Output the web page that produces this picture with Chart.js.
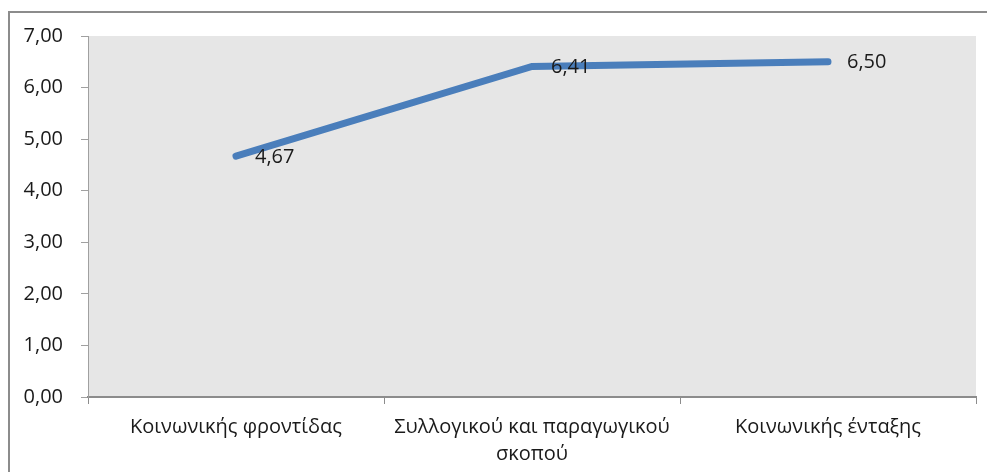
<!DOCTYPE html>
<html>
<head>
<meta charset="utf-8">
<script src="https://cdn.jsdelivr.net/npm/chart.js@4"></script>
<style>
  html, body { margin: 0; padding: 0; background: #fff; }
  #wrap { position: relative; width: 987px; height: 472px; overflow: hidden; }
  #frame {
    position: absolute; left: 8px; top: 11px; width: 1000px; height: 500px;
    border-left: 2px solid #8c8c8c; border-top: 2px solid #8c8c8c;
  }
  canvas { position: absolute; left: 0; top: 0; }
</style>
</head>
<body>
<div id="wrap">
  <div id="frame"></div>
  <canvas id="chart" width="987" height="472"></canvas>
</div>
<script>
// Κατηγορίες και τιμές
const categories = [
  "Κοινωνικής φροντίδας",
  ["Συλλογικού και παραγωγικού", "σκοπού"],
  "Κοινωνικής ένταξης",
];
const values = [4.67, 6.41, 6.5];
const yTicks = [0, 1, 2, 3, 4, 5, 6, 7];

const fontFamily = "'Open Sans', 'Noto Sans', sans-serif";

// Γκρι φόντο στην περιοχή σχεδίασης
const plotBackground = {
  id: "plotBackground",
  beforeDraw(chart) {
    const { ctx, chartArea: a } = chart;
    ctx.save();
    ctx.fillStyle = "#e6e6e6";
    ctx.fillRect(a.left, a.top, a.right - a.left, a.bottom - a.top);
    ctx.restore();
  },
};

// Ετικέτες τιμών δεξιά από κάθε σημείο
const valueLabels = {
  id: "valueLabels",
  afterDatasetsDraw(chart) {
    const { ctx } = chart;
    const meta = chart.getDatasetMeta(0);
    ctx.save();
    ctx.font = "20px " + fontFamily;
    ctx.fillStyle = "#1a1a1a";
    ctx.textAlign = "left";
    ctx.textBaseline = "middle";
    meta.data.forEach((pt, i) => {
      const txt = values[i].toFixed(2).replace(".", ",");
      ctx.fillText(txt, pt.x + 19, pt.y + 1);
    });
    ctx.restore();
  },
};

new Chart(document.getElementById("chart"), {
  type: "line",
  data: {
    labels: categories,
    datasets: [
      {
        data: values,
        borderColor: "#4a7ebb",
        borderWidth: 7,
        borderCapStyle: "round",
        borderJoinStyle: "miter",
        pointRadius: 0,
        tension: 0,
        fill: false,
      },
    ],
  },
  options: {
    responsive: false,
    animation: false,
    layout: { padding: { top: 36, right: 11, left: 0, bottom: 0 } },
    plugins: {
      legend: { display: false },
      tooltip: { enabled: false },
    },
    scales: {
      x: {
        offset: true,
        grid: {
          offset: true,
          drawOnChartArea: false,
          drawTicks: true,
          tickLength: 7,
          color: "#8c8c8c",
        },
        border: { color: "#8c8c8c", width: 2 },
        ticks: {
          color: "#1a1a1a",
          font: { family: fontFamily, size: 20, lineHeight: 1.35 },
          padding: 10,
          maxRotation: 0,
        },
        afterFit(scale) {
          scale.height = 75;
        },
      },
      y: {
        min: 0,
        max: 7,
        afterBuildTicks(scale) {
          scale.ticks = yTicks.map((v) => ({ value: v }));
        },
        grid: {
          drawOnChartArea: false,
          drawTicks: true,
          tickLength: 7,
          color: "#a0a0a0",
        },
        border: { color: "#a0a0a0", width: 1 },
        ticks: {
          color: "#1a1a1a",
          font: { family: fontFamily, size: 20 },
          padding: 18,
          callback: (v) => Number(v).toFixed(2).replace(".", ","),
        },
        afterFit(scale) {
          scale.width = 88;
        },
      },
    },
  },
  plugins: [plotBackground, valueLabels],
});
</script>
</body>
</html>
